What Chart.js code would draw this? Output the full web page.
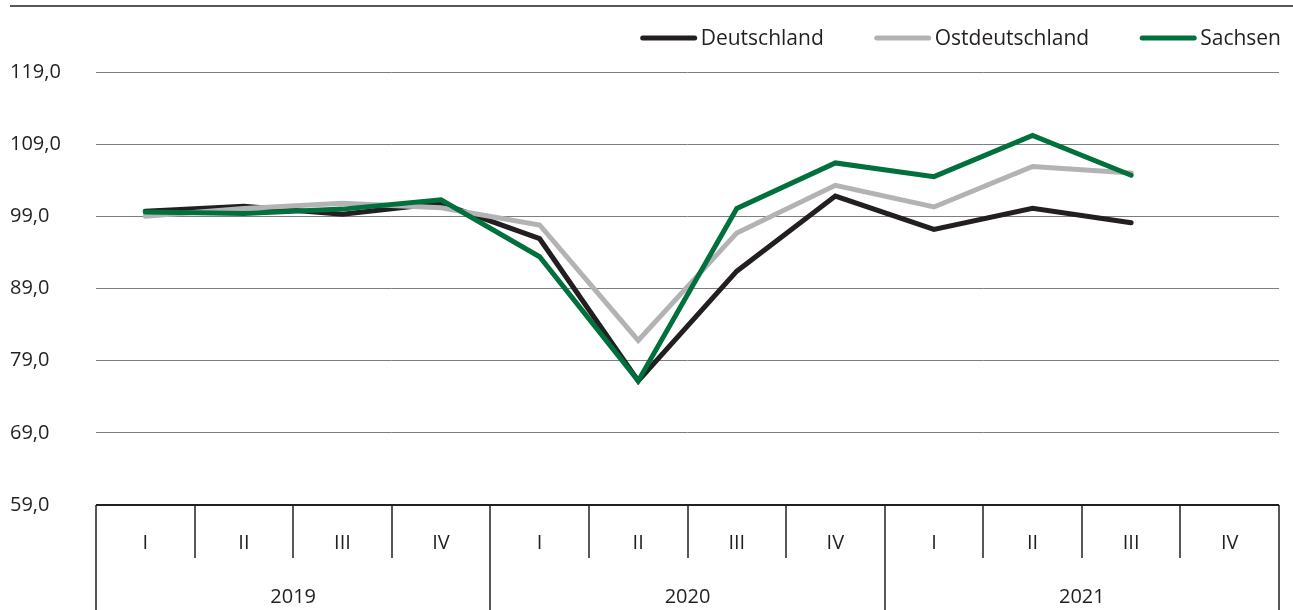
<!DOCTYPE html>
<html>
<head>
<meta charset="utf-8">
<script src="https://cdn.jsdelivr.net/npm/chart.js@4.4.1/dist/chart.umd.min.js"></script>
<style>
  html, body { margin: 0; padding: 0; background: #fff; }
  #wrap { width: 1293px; height: 610px; position: relative; }
</style>
</head>
<body>
<div id="wrap"><canvas id="lineChart"></canvas></div>
<script>
// quarters and years on the x axis
const quarters = ['I', 'II', 'III', 'IV', 'I', 'II', 'III', 'IV', 'I', 'II', 'III', 'IV'];
const years = ['2019', '2020', '2021'];

// index values
const deutschland = [99.7, 100.4, 99.3, 100.8, 95.9, 76.2, 91.4, 101.8, 97.2, 100.1, 98.1, null];
const ostdeutschland = [99.0, 100.1, 100.8, 100.2, 97.8, 81.8, 96.7, 103.3, 100.3, 105.9, 105.0, null];
const sachsen = [99.6, 99.4, 100.0, 101.3, 93.4, 76.2, 100.1, 106.4, 104.5, 110.2, 104.7, null];

const yTicks = [59, 69, 79, 89, 99, 109, 119];

const FONT = '"Open Sans", sans-serif';
const TEXT = '#231f20';

const seriesStyle = [
    { label: 'Deutschland', data: deutschland, color: '#231f20', order: 2 },
    { label: 'Ostdeutschland', data: ostdeutschland, color: '#b3b3b6', order: 1 },
    { label: 'Sachsen', data: sachsen, color: '#00703c', order: 0 }
];

// draws the frame line at the top, the custom legend and the two-level x axis
const decorations = {
    id: 'decorations',
    afterDraw(chart) {
        const ctx = chart.ctx;
        const area = chart.chartArea;
        const x = chart.scales.x;
        ctx.save();

        // top rule
        ctx.strokeStyle = TEXT;
        ctx.lineWidth = 1.5;
        ctx.beginPath();
        ctx.moveTo(10, 6);
        ctx.lineTo(chart.width, 6);
        ctx.stroke();

        // legend, right aligned
        ctx.font = '21px ' + FONT;
        ctx.textBaseline = 'middle';
        ctx.textAlign = 'left';
        const lineW = 56, gap = 4, itemGap = 51, ly = 38;
        let widths = seriesStyle.map(s => lineW + gap + ctx.measureText(s.label).width);
        let total = widths.reduce((a, b) => a + b, 0) + itemGap * (widths.length - 1);
        let lx = 1281 - total;
        seriesStyle.forEach((s, i) => {
            ctx.strokeStyle = s.color;
            ctx.lineWidth = 5;
            ctx.lineCap = 'round';
            ctx.beginPath();
            ctx.moveTo(lx + 2, ly);
            ctx.lineTo(lx + lineW - 2, ly);
            ctx.stroke();
            ctx.fillStyle = TEXT;
            ctx.fillText(s.label, lx + lineW + gap, ly + 1);
            lx += widths[i] + itemGap;
        });

        // x axis base line
        ctx.lineCap = 'butt';
        ctx.strokeStyle = TEXT;
        ctx.lineWidth = 2;
        ctx.beginPath();
        ctx.moveTo(area.left, area.bottom);
        ctx.lineTo(area.right, area.bottom);
        ctx.stroke();

        // quarter and year dividers
        const step = (area.right - area.left) / quarters.length;
        const quarterBottom = area.bottom + 53;
        ctx.lineWidth = 1.5;
        for (let i = 0; i <= quarters.length; i++) {
            const edge = i === quarters.length ? area.right : Math.round(x.getPixelForValue(i) - step / 2);
            const isYear = i % 4 === 0;
            ctx.beginPath();
            ctx.moveTo(edge, area.bottom);
            ctx.lineTo(edge, isYear ? chart.height : quarterBottom);
            ctx.stroke();
        }

        ctx.fillStyle = TEXT;
        ctx.textAlign = 'center';
        ctx.font = '20px ' + FONT;
        quarters.forEach((q, i) => {
            ctx.fillText(q, x.getPixelForValue(i), area.bottom + 38);
        });
        years.forEach((yr, i) => {
            const cx = (x.getPixelForValue(i * 4) + x.getPixelForValue(i * 4 + 3)) / 2;
            ctx.fillText(yr, cx, area.bottom + 92);
        });
        ctx.restore();
    }
};

const ctx = document.getElementById('lineChart').getContext('2d');
new Chart(ctx, {
    type: 'line',
    data: {
        labels: quarters,
        datasets: seriesStyle.map(s => ({
            label: s.label,
            data: s.data,
            borderColor: s.color,
            backgroundColor: s.color,
            borderWidth: 5,
            borderCapStyle: 'round',
            borderJoinStyle: 'miter',
            pointRadius: 0,
            tension: 0,
            order: s.order,
            spanGaps: false
        }))
    },
    options: {
        responsive: true,
        maintainAspectRatio: false,
        animation: false,
        layout: { padding: { left: 10, right: 14, top: 72, bottom: 105 } },
        scales: {
            x: {
                type: 'category',
                offset: true,
                display: false
            },
            y: {
                min: 59,
                max: 119,
                afterFit(scale) { scale.width = 86; },
                afterBuildTicks(scale) { scale.ticks = yTicks.map(v => ({ value: v })); },
                border: { display: false },
                grid: {
                    color: '#7d7d7d',
                    lineWidth: 1,
                    drawTicks: false
                },
                ticks: {
                    crossAlign: 'far',
                    color: TEXT,
                    font: { family: FONT, size: 20 },
                    callback: v => v.toFixed(1).replace('.', ',')
                }
            }
        },
        plugins: {
            legend: { display: false },
            tooltip: { enabled: false }
        }
    },
    plugins: [decorations]
});
</script>
</body>
</html>
